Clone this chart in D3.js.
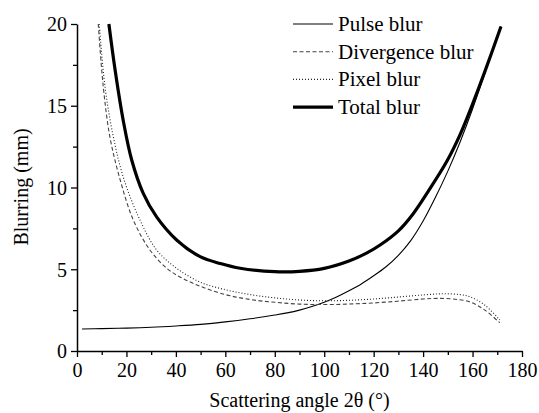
<!DOCTYPE html>
<html>
<head>
<meta charset="utf-8">
<script src="https://cdnjs.cloudflare.com/ajax/libs/d3/7.8.5/d3.min.js"></script>
<style>
  body { margin: 0; background: #fff; }
  svg { display: block; }
</style>
</head>
<body>
<script>
// values: angle (deg) and blur (mm)
var pulseX = [2, 10, 20, 30, 40, 50, 60, 70, 80, 85, 90, 95, 100, 105, 110, 115, 120, 125, 130, 135, 140, 145, 150, 155, 160, 165, 171.5];
var pulseY = [1.35, 1.37, 1.40, 1.45, 1.53, 1.63, 1.78, 1.97, 2.2, 2.33, 2.5, 2.72, 2.98, 3.3, 3.68, 4.1, 4.6, 5.15, 5.85, 6.75, 7.95, 9.4, 11.0, 12.8, 14.8, 17.0, 19.85];

var divX = [8.6, 10.6, 13.3, 17.4, 22.8, 29.5, 36.3, 42, 50, 60, 70, 80, 90, 100, 110, 120, 130, 140, 146, 152, 159, 165, 171];
var divY = [20, 16.2, 13.1, 10.5, 8.0, 6.18, 5.06, 4.5, 3.95, 3.45, 3.15, 2.98, 2.87, 2.84, 2.87, 2.94, 3.05, 3.18, 3.22, 3.18, 3.0, 2.5, 1.73];

var pixX = [9, 11.3, 14.7, 19, 25.5, 32.2, 40.3, 50, 60, 70, 80, 90, 100, 110, 120, 130, 140, 148, 155, 159, 165, 171];
var pixY = [20, 16.2, 13.1, 10.5, 8.0, 6.18, 5.06, 4.2, 3.75, 3.45, 3.25, 3.12, 3.07, 3.1, 3.18, 3.3, 3.43, 3.5, 3.45, 3.32, 2.8, 1.9];

var totX = [12.9, 15.4, 18.7, 22.1, 26.8, 32.2, 40.3, 49.8, 58, 66, 80, 90, 100, 110, 117.3, 122.6, 130, 136, 142, 149.6, 155, 160, 165, 171.5];
var totY = [20, 17.2, 14.1, 11.7, 9.64, 8.2, 6.79, 5.77, 5.35, 5.06, 4.85, 4.87, 5.05, 5.5, 6.0, 6.48, 7.35, 8.4, 9.75, 11.6, 13.25, 15.1, 17.1, 19.85];

var seriesNames = ["Pulse blur", "Divergence blur", "Pixel blur", "Total blur"];
var xTicks = [0, 20, 40, 60, 80, 100, 120, 140, 160, 180];
var yTicks = [0, 5, 10, 15, 20];

var serif = "'Liberation Serif', 'Times New Roman', Times, 'DejaVu Serif', serif";

var svgWidth = 539, svgHeight = 413;
var margin = { top: 24, right: 17, bottom: 62, left: 77 };
var width = svgWidth - margin.left - margin.right;
var height = svgHeight - margin.top - margin.bottom;

var svg = d3.select("body").append("svg")
  .attr("width", svgWidth)
  .attr("height", svgHeight)
  .style("font-family", serif);

var chartGroup = svg.append("g")
  .attr("transform", `translate(${margin.left}, ${margin.top})`);

var x = d3.scaleLinear().domain([0, 180]).range([0, width]);
var y = d3.scaleLinear().domain([0, 20]).range([height, 0]);

// minor ticks first, then major ticks with labels
chartGroup.append("g")
  .attr("transform", `translate(0, ${height})`)
  .call(d3.axisBottom(x).tickValues(d3.range(10, 180, 20)).tickSize(4).tickFormat(""))
  .call(g => g.select(".domain").remove());

chartGroup.append("g")
  .call(d3.axisLeft(y).tickValues([2.5, 7.5, 12.5, 17.5]).tickSize(4).tickFormat(""))
  .call(g => g.select(".domain").remove());

var xAxis = chartGroup.append("g")
  .attr("transform", `translate(0, ${height})`)
  .call(d3.axisBottom(x).tickValues(xTicks).tickSize(6).tickSizeOuter(0).tickPadding(6));

var yAxis = chartGroup.append("g")
  .call(d3.axisLeft(y).tickValues(yTicks).tickSize(6).tickSizeOuter(0).tickPadding(4));

chartGroup.selectAll("g").attr("font-family", null).attr("font-size", null);
chartGroup.selectAll(".tick line").attr("stroke", "#000").attr("stroke-width", 1.3);
chartGroup.selectAll(".domain").attr("stroke", "#000").attr("stroke-width", 1.5);
chartGroup.selectAll(".tick text")
  .style("font-family", serif)
  .style("font-size", "20px")
  .attr("fill", "#000");
yAxis.selectAll(".tick text").attr("dy", "0.34em");

var line = d3.line()
  .x(d => x(d[0]))
  .y(d => y(d[1]))
  .curve(d3.curveCatmullRom.alpha(0.5));

var series = [
  { xs: pulseX, ys: pulseY, color: "#000", width: 1.1, dash: null },
  { xs: divX, ys: divY, color: "#444", width: 1.1, dash: "4,2.5" },
  { xs: pixX, ys: pixY, color: "#222", width: 1.1, dash: "1,2" },
  { xs: totX, ys: totY, color: "#000", width: 3.2, dash: null }
];

series.forEach(function(s) {
  chartGroup.append("path")
    .datum(s.xs.map((v, i) => [v, s.ys[i]]))
    .attr("fill", "none")
    .attr("stroke", s.color)
    .attr("stroke-width", s.width)
    .attr("stroke-dasharray", s.dash)
    .attr("d", line);
});

// legend
var legend = svg.append("g").attr("transform", "translate(293, 24)");
series.forEach(function(s, i) {
  var row = legend.append("g").attr("transform", `translate(0, ${i * 27.7})`);
  row.append("line")
    .attr("x1", 0).attr("x2", 40)
    .attr("y1", 0).attr("y2", 0)
    .attr("stroke", s.color)
    .attr("stroke-width", s.width)
    .attr("stroke-dasharray", s.dash);
  row.append("text")
    .attr("x", 45)
    .attr("y", 7)
    .style("font-family", serif)
    .style("font-size", "21px")
    .text(seriesNames[i]);
});

// axis titles
svg.append("text")
  .attr("x", margin.left + width / 2)
  .attr("y", 407)
  .style("text-anchor", "middle")
  .style("font-family", serif)
  .style("font-size", "20px")
  .text("Scattering angle 2θ (°)");

svg.append("text")
  .attr("transform", "rotate(-90)")
  .attr("x", -187)
  .attr("y", 28)
  .style("text-anchor", "middle")
  .style("font-family", serif)
  .style("font-size", "20px")
  .text("Blurring (mm)");
</script>
</body>
</html>
